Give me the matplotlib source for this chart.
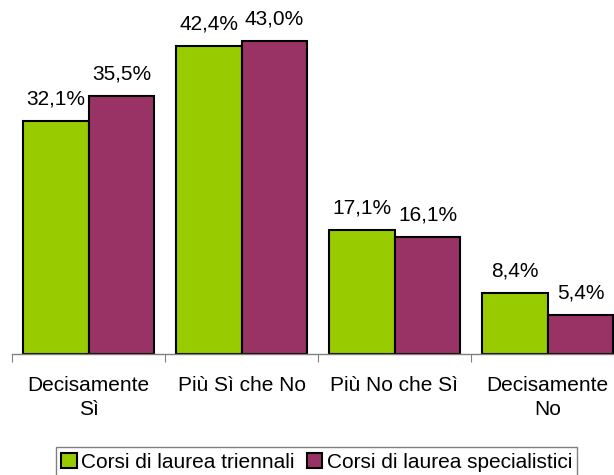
import numpy as np
import matplotlib.pyplot as plt

categorie = ["Decisamente\nSì", "Più Sì che No", "Più No che Sì", "Decisamente\nNo"]
triennali = [32.1, 42.4, 17.1, 8.4]
specialistici = [35.5, 43.0, 16.1, 5.4]
serie = ["Corsi di laurea triennali", "Corsi di laurea specialistici"]

plt.rcParams['font.family'] = ['Liberation Sans', 'DejaVu Sans']

fig = plt.figure(figsize=(6.14, 4.75), dpi=100)
# asse un po' più largo della figura: l'ultima barra è tagliata a destra
ax = fig.add_axes([12 / 614, 121 / 475, 612 / 614, 349 / 475])

x = np.arange(len(categorie))
w = 0.431
b1 = ax.bar(x - w / 2, triennali, w, color="#99CC00", edgecolor="black", linewidth=1.5, label=serie[0])
b2 = ax.bar(x + w / 2, specialistici, w, color="#993366", edgecolor="black", linewidth=1.5, label=serie[1])

for bars, vals in [(b1, triennali), (b2, specialistici)]:
    for r, v in zip(bars, vals):
        ax.annotate(f"{v:.1f}%".replace(".", ","), (r.get_x() + r.get_width() / 2, v),
                    xytext=(0, 9), textcoords="offset points", ha="center", va="bottom",
                    fontsize=15, annotation_clip=False)

ax.set_xlim(-0.5, len(categorie) - 0.5)
ax.set_ylim(0, 48)
ax.set_yticks([])
for s in ["top", "right", "left"]:
    ax.spines[s].set_visible(False)
ax.spines["bottom"].set_color("#808080")
ax.spines["bottom"].set_linewidth(1.0)

ax.set_xticks(np.arange(len(categorie) + 1) - 0.5)
ax.set_xticklabels([])
ax.tick_params(axis="x", which="major", length=6, color="#808080", direction="out")
ax.set_xticks(x, minor=True)
ax.set_xticklabels(categorie, minor=True, fontsize=15, linespacing=1.3)
ax.tick_params(axis="x", which="minor", length=0, pad=16)

fig.legend(loc="center", bbox_to_anchor=(316.5 / 614, 1 - 462 / 475), ncol=2, fontsize=15,
           frameon=True, fancybox=False, edgecolor="#808080", framealpha=1,
           handlelength=0.75, handleheight=0.75, handletextpad=0.2, columnspacing=0.6,
           borderpad=0.25, borderaxespad=0)

fig.savefig("out.png", dpi=100)
